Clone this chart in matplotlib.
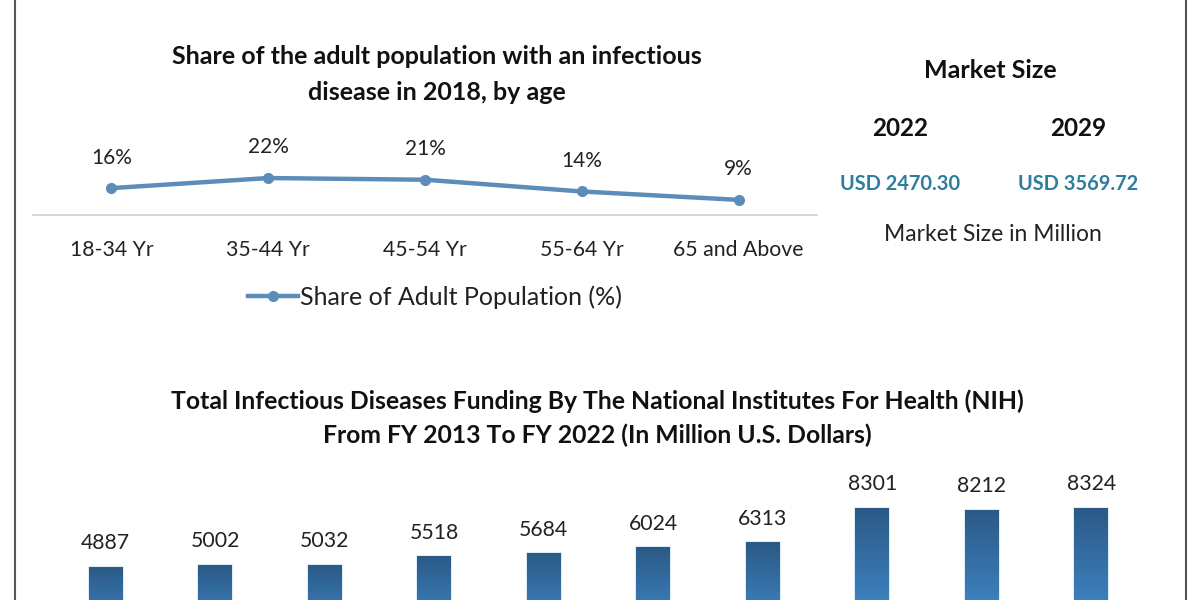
import numpy as np
import matplotlib.pyplot as plt
from matplotlib.lines import Line2D
from matplotlib.colors import LinearSegmentedColormap

plt.rcParams['font.family'] = ['Lato', 'DejaVu Sans']

# top chart data
age_groups = ['18-34 Yr', '35-44 Yr', '45-54 Yr', '55-64 Yr', '65 and Above']
adult_share = [16, 22, 21, 14, 9]

# market size panel
market_years = ['2022', '2029']
market_values = ['USD 2470.30', 'USD 3569.72']

# bottom chart data
fiscal_years = ['2013', '2014', '2015', '2016', '2017', '2018', '2019', '2020', '2021', '2022']
nih_funding = [4887, 5002, 5032, 5518, 5684, 6024, 6313, 8301, 8212, 8324]

W, H = 1200, 600
fig = plt.figure(figsize=(12, 6), dpi=100)
fig.patch.set_facecolor('white')

def fx(px):
    return px / W

def fy(py):
    return 1 - py / H

line_col = '#5b8db8'
txt = '#222222'

# ---- line chart ----
ax1 = fig.add_axes([fx(33), fy(215), fx(784), 42 / H])
x = np.arange(len(age_groups))
ax1.plot(x, adult_share, color=line_col, lw=3.2, marker='o', ms=7,
         label='Share of Adult Population (%)')
for xi, v in zip(x, adult_share):
    ax1.annotate(f'{v}%', (xi, v), xytext=(0, 22), textcoords='offset points',
                 ha='center', va='center', fontsize=15, color=txt)
ax1.set_xlim(-0.5, len(age_groups) - 0.5)
ax1.set_ylim(0, 25)
ax1.set_xticks(x)
ax1.set_xticklabels(age_groups, fontsize=15.3, color=txt)
ax1.tick_params(axis='x', length=0, pad=18)
ax1.set_yticks([])
for s in ['top', 'left', 'right']:
    ax1.spines[s].set_visible(False)
ax1.spines['bottom'].set_color('#d0d0d0')
ax1.spines['bottom'].set_linewidth(1.2)
ax1.set_facecolor('none')
ax1.legend(loc='center', bbox_to_anchor=(fx(435), fy(297)), bbox_transform=fig.transFigure,
           frameon=False, fontsize=18, handlelength=2.0, handletextpad=0.05,
           labelcolor=txt)

fig.text(fx(437), fy(57), 'Share of the adult population with an infectious',
         ha='center', va='center', fontsize=18, fontweight='bold', color='#111111')
fig.text(fx(437), fy(92), 'disease in 2018, by age',
         ha='center', va='center', fontsize=18, fontweight='bold', color='#111111')

# ---- market size panel ----
fig.text(fx(990), fy(71), 'Market Size', ha='center', va='center',
         fontsize=18, fontweight='bold', color='#111111')
for xp, yr, val in zip([900, 1078], market_years, market_values):
    fig.text(fx(xp), fy(129), yr, ha='center', va='center',
             fontsize=17.5, fontweight='bold', color='#111111')
    fig.text(fx(xp), fy(184), val, ha='center', va='center',
             fontsize=14.4, fontweight='bold', color='#2f7d9e')
fig.text(fx(993), fy(235), 'Market Size in Million', ha='center', va='center',
         fontsize=16.5, color=txt)

# ---- bar chart ----
ax2 = fig.add_axes([fx(51), fy(651.5), fx(1095), 172.8 / H])
xb = np.arange(len(fiscal_years))
bars = ax2.bar(xb, nih_funding, width=0.31, color='#34699b',
               edgecolor='#dcecf8', linewidth=1.5)
cmap = LinearSegmentedColormap.from_list('g', ['#4595dc', '#2b5a86'])
grad = np.linspace(0, 1, 256).reshape(-1, 1)
for b in bars:
    x0, w, h = b.get_x(), b.get_width(), b.get_height()
    im = ax2.imshow(grad, extent=[x0, x0 + w, 0, h], origin='lower',
                    aspect='auto', cmap=cmap, zorder=3)
    im.set_clip_path(b)
for xi, v in zip(xb, nih_funding):
    ax2.annotate(str(v), (xi, v), xytext=(0, 17), textcoords='offset points',
                 ha='center', va='center', fontsize=15.3, color=txt)
ax2.set_xlim(-0.5, len(fiscal_years) - 0.5)
ax2.set_ylim(0, 10000)
ax2.axis('off')

fig.text(fx(597), fy(401),
         'Total Infectious Diseases Funding By The National Institutes For Health (NIH)',
         ha='center', va='center', fontsize=17.8, fontweight='bold', color='#111111')
fig.text(fx(597), fy(435), 'From FY 2013 To FY 2022 (In Million U.S. Dollars)',
         ha='center', va='center', fontsize=17.8, fontweight='bold', color='#111111')

# frame lines at the sides
for xp in [15, 1186]:
    fig.add_artist(Line2D([fx(xp), fx(xp)], [0, 1], color='#555555', lw=1.5))

fig.savefig('out.png', dpi=100)
